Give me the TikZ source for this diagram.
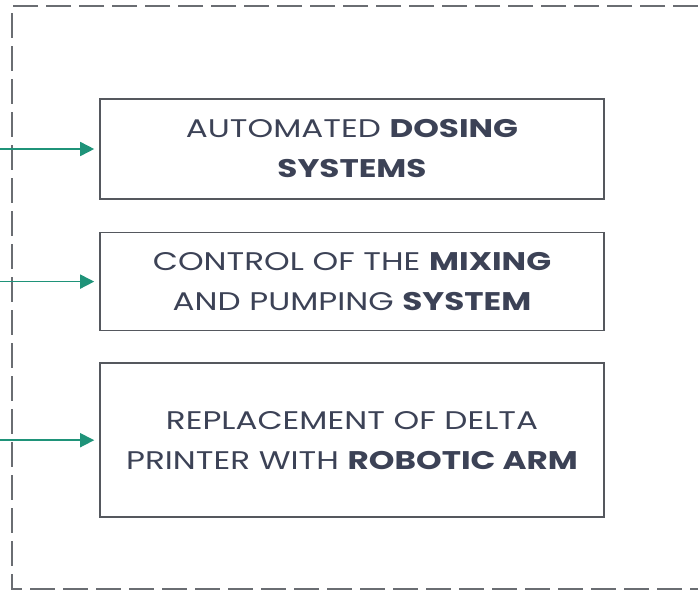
\documentclass[tikz,border=0pt]{standalone}
\usepackage{fontspec}
\setmainfont{Poppins}[FakeStretch=1.28]
\usepackage{tikz}
\usetikzlibrary{positioning,arrows.meta}
\definecolor{framegray}{HTML}{6A6D72}
\definecolor{boxgray}{HTML}{55585E}
\definecolor{txtslate}{HTML}{3C4256}
\definecolor{flowteal}{HTML}{1F9379}

\begin{document}
\begin{tikzpicture}[x=1pt,y=-1pt,
		task/.style={draw=boxgray, line width=1.6pt, minimum width=504pt, inner sep=0pt,
			align=center, text=txtslate, font=\fontsize{25.5}{40}\selectfont},
		flow/.style={draw=flowteal, line width=1.6pt, -{Triangle[length=14pt,width=14pt]}, shorten >=5pt},
		frame/.style={draw=framegray, line width=2pt, dash pattern=on 25pt off 8pt}]
	\useasboundingbox (0,0) rectangle (698,592);
	\draw[frame] (698,6) -- (12,6) -- (12,589) -- (698,589);
	\coordinate (edge) at (0,0);
	\node[task, minimum height=100pt] (dosing) at (352,149) {AUTOMATED \textbf{DOSING}\\\textbf{SYSTEMS}};
	\node[task, minimum height=98pt, below=32pt of dosing] (mixing) {CONTROL OF THE \textbf{MIXING}\\AND PUMPING \textbf{SYSTEM}};
	\node[task, minimum height=154pt, below=31pt of mixing] (robot) {REPLACEMENT OF DELTA\\PRINTER WITH \textbf{ROBOTIC ARM}};
	\foreach \b in {dosing,mixing,robot}
		\draw[flow] (edge |- \b.west) -- (\b.west);
\end{tikzpicture}
\end{document}
